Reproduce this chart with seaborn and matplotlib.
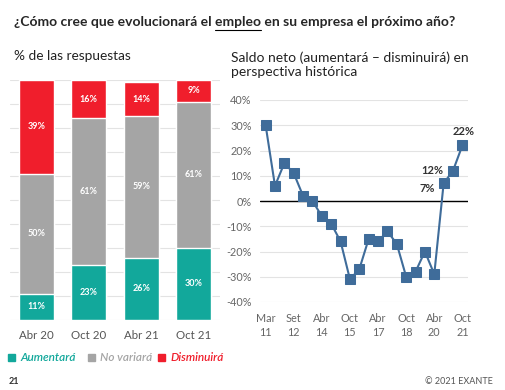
import numpy as np
import pandas as pd
import matplotlib
matplotlib.use('Agg')
import matplotlib.pyplot as plt
import seaborn as sns

# datos de la encuesta (% de las respuestas)
periodos = ['Abr 20', 'Oct 20', 'Abr 21', 'Oct 21']
aumentara = [11, 23, 26, 30]
no_variara = [50, 61, 59, 61]
disminuira = [39, 16, 14, 9]

# saldo neto historico (aumentara - disminuira), semestral Mar 11 .. Oct 21
saldo = [30, 6, 15, 11, 2, 0, -6, -9, -16, -31, -27, -15,
         -16, -12, -17, -30, -28, -20, -29, 7, 12, 22]
ticks_idx = [0, 3, 6, 9, 12, 15, 18, 21]
ticks_lab = ['Mar\n11', 'Set\n12', 'Abr\n14', 'Oct\n15', 'Abr\n17', 'Oct\n18', 'Abr\n20', 'Oct\n21']
etiquetas = {19: '7%', 20: '12%', 21: '22%'}

verde = '#12A89B'
gris = '#A5A5A5'
rojo = '#F01E2C'
azul = '#3F6C9A'

sns.set_style('white')
plt.rcParams['font.family'] = ['Lato', 'DejaVu Sans']

fig = plt.figure(figsize=(5.05, 3.9), dpi=100)
W, H = 505, 390

def ax_px(x0, y0, x1, y1):
    return fig.add_axes([x0 / W, 1 - y1 / H, (x1 - x0) / W, (y1 - y0) / H])

# titulo con "empleo" subrayado
tam = 10
t = fig.text(14 / W, 1 - 22 / H, '¿Cómo cree que evolucionará el empleo en su empresa el próximo año?',
             fontsize=tam, fontweight='bold', va='center', ha='left')
fig.canvas.draw()
r = fig.canvas.get_renderer()
pre = fig.text(0, 0, '¿Cómo cree que evolucionará el ', fontsize=tam, fontweight='bold')
emp = fig.text(0, 0, 'empleo', fontsize=tam, fontweight='bold')
bb_t = t.get_window_extent(r)
w_pre = pre.get_window_extent(r).width
w_emp = emp.get_window_extent(r).width
pre.remove()
emp.remove()
ux0 = bb_t.x0 + w_pre
fig.add_artist(plt.Line2D([ux0 / W, (ux0 + w_emp) / W], [1 - 30 / H, 1 - 30 / H],
                          color='black', lw=0.8, transform=fig.transFigure))

fig.text(14 / W, 1 - 56 / H, '% de las respuestas', fontsize=9.8, va='center', color='#222222')
fig.text(231 / W, 1 - 65 / H, 'Saldo neto (aumentará – disminuirá) en\nperspectiva histórica',
         fontsize=10, va='center', color='#222222', linespacing=1.2)

# barras apiladas
ax1 = ax_px(10, 80, 220, 320)
df = pd.DataFrame({'periodo': periodos, 'aum': aumentara, 'nov': no_variara, 'dis': disminuira})
df['c2'] = df['aum'] + df['nov']
df['c3'] = df['c2'] + df['dis']
sns.barplot(data=df, x='periodo', y='c3', color=rojo, width=0.67, saturation=1, ax=ax1)
sns.barplot(data=df, x='periodo', y='c2', color=gris, width=0.67, saturation=1, ax=ax1)
sns.barplot(data=df, x='periodo', y='aum', color=verde, width=0.67, saturation=1, ax=ax1)
for i in range(len(periodos)):
    a, n, d = aumentara[i], no_variara[i], disminuira[i]
    for v, c in [(a / 2, a), (a + n / 2, n), (a + n + d / 2, d)]:
        ax1.text(i, v, f'{c}%', ha='center', va='center', color='white',
                 fontsize=6.5, fontweight='bold')
ax1.set_ylim(0, 100)
ax1.set_xlim(-0.5, 3.5)
ax1.set_yticks(np.arange(0, 101, 10))
ax1.set_yticklabels([])
ax1.tick_params(axis='y', length=0)
ax1.tick_params(axis='x', length=0, labelsize=8.3, colors='#555555', pad=7)
ax1.yaxis.grid(True, color='#E3E3E3', lw=0.8)
ax1.set_axisbelow(True)
ax1.set_xlabel('')
ax1.set_ylabel('')
for s in ax1.spines.values():
    s.set_visible(False)

# leyenda
items = [('Aumentará', verde), ('No variará', gris), ('Disminuirá', rojo)]
xs = [8, 88, 158]
for (lab, col), x in zip(items, xs):
    fig.patches.append(plt.Rectangle((x / W, 1 - 361 / H), 7 / W, 7 / H, color=col,
                                     transform=fig.transFigure, figure=fig))
    fig.text((x + 12) / W, 1 - 357.5 / H, lab, fontsize=8.5, style='italic',
             fontweight='semibold', color=col, va='center')

# linea historica
ax2 = ax_px(260, 100, 468, 302)
sns.lineplot(x=np.arange(len(saldo)), y=saldo, color=azul, marker='s', markersize=6.5,
             markeredgecolor=azul, lw=1.5, ax=ax2)
ax2.axhline(0, color='black', lw=1, zorder=1)
ax2.set_ylim(-40, 40)
ax2.set_xlim(-0.6, 21.6)
ax2.set_yticks(np.arange(-40, 41, 10))
ax2.set_yticklabels([f'{v}%' for v in range(-40, 41, 10)])
ax2.set_xticks(ticks_idx)
ax2.set_xticklabels(ticks_lab, linespacing=1.35)
ax2.tick_params(axis='both', length=0, labelsize=7.8, colors='#666666')
ax2.tick_params(axis='y', pad=6)
ax2.tick_params(axis='x', pad=8)
ax2.yaxis.grid(True, color='#E3E3E3', lw=0.8)
ax2.set_axisbelow(True)
for s in ax2.spines.values():
    s.set_visible(False)
offs = {19: (-12, -3.5), 20: (-15, 0), 21: (1, 10)}
for i, lab in etiquetas.items():
    dx, dy = offs[i]
    ax2.annotate(lab, (i, saldo[i]), xytext=(dx, dy), textcoords='offset points',
                 ha='center', va='center', fontsize=8, fontweight='bold', color='#333333')

# pie
fig.text(9 / W, 1 - 381 / H, '21', fontsize=6.5, fontweight='bold', va='center', color='#333333')
fig.text(493 / W, 1 - 381 / H, '© 2021 EXANTE', fontsize=6.5, va='center', ha='right', color='#555555')

fig.savefig('out.png', dpi=100)
